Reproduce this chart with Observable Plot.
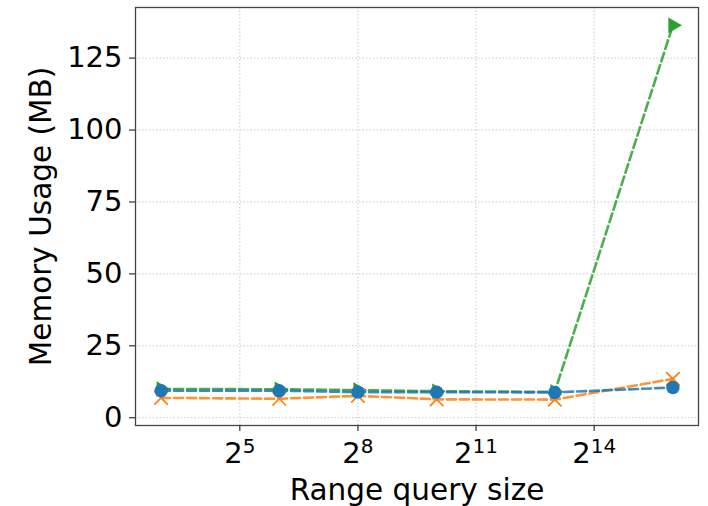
<!DOCTYPE html>
<html><head><meta charset="utf-8">
<script src="https://cdn.jsdelivr.net/npm/d3@7"></script>
<script src="https://cdn.jsdelivr.net/npm/@observablehq/plot@0.6"></script>
<style>body{margin:0;background:#fff} svg{display:block}</style>
</head><body><div id="chart"></div>
<script>
const rangeSizes = [8, 64, 256, 1024, 8192, 65536];
const memoryBlue = [9.4, 9.4, 8.9, 8.9, 8.8, 10.5];
const memoryOrange = [6.9, 6.6, 7.6, 6.4, 6.3, 13.5];
const memoryGreen = [10.0, 9.9, 9.6, 9.2, 9.0, 136.4];
const xTickValues = [32, 256, 2048, 16384];
const yTickValues = [0, 25, 50, 75, 100, 125];
const xLabel = "Range query size";
const yLabel = "Memory Usage (MB)";

const toRows = vals => rangeSizes.map((s, i) => ({size: s, mb: vals[i]}));
const green = toRows(memoryGreen), orange = toRows(memoryOrange), blue = toRows(memoryBlue);

const dash = "9,4";
const lineOpts = (c) => ({x: "size", y: "mb", stroke: c, strokeWidth: 2.6, strokeDasharray: dash, strokeOpacity: 0.85});

const chart = Plot.plot({
  width: 708, height: 506,
  marginLeft: 135, marginRight: 10, marginTop: 7, marginBottom: 81,
  x: {type: "log", base: 2, domain: [2 ** 2.35, 2 ** 16.65]},
  y: {domain: [-2.7, 142.6]},
  style: {fontFamily: "DejaVu Sans", background: "white", color: "#000"},
  marks: [
    Plot.gridX(xTickValues, {stroke: "#c8c8c8", strokeOpacity: 1, strokeWidth: 1, strokeDasharray: "1.5,2"}),
    Plot.gridY(yTickValues, {stroke: "#c8c8c8", strokeOpacity: 1, strokeWidth: 1, strokeDasharray: "1.5,2"}),
    Plot.line(green, lineOpts("#2ca02c")),
    Plot.dot(green, {x: "size", y: "mb", symbol: "triangle", rotate: 90, r: 5.8, fill: "#2ca02c", stroke: "none"}),
    Plot.line(orange, lineOpts("#ff7f0e")),
    Plot.dot(orange, {x: "size", y: "mb", symbol: "times", r: 6.2, stroke: "#ff7f0e", strokeWidth: 1.7}),
    Plot.line(blue, lineOpts("#1f77b4")),
    Plot.dot(blue, {x: "size", y: "mb", symbol: "circle", r: 6.7, fill: "#1f77b4", stroke: "none"}),
    Plot.frame({stroke: "#444", strokeWidth: 1.3}),
    Plot.axisY(yTickValues, {tickSize: 6, tickPadding: 7, fontSize: 29, label: null, stroke: "#333", strokeWidth: 1.2}),
    Plot.axisX(xTickValues, {tickSize: 6, tickPadding: 11, fontSize: 29, label: null, stroke: "#333", strokeWidth: 1.2,
      tickFormat: d => "2^" + Math.round(Math.log2(d))}),
    Plot.text([xLabel], {frameAnchor: "bottom", dy: 74, lineAnchor: "bottom", textAnchor: "middle", fontSize: 29.5, fill: "#000"}),
    Plot.text([yLabel], {frameAnchor: "left", dx: -85, rotate: -90, lineAnchor: "bottom", textAnchor: "middle", fontSize: 29.5, fill: "#000"})
  ]
});

// render superscript exponents in x tick labels
d3.select(chart).selectAll('g[aria-label="x-axis tick label"] text').each(function() {
  const t = d3.select(this);
  const s = t.text();
  if (!s.includes("^")) return;
  const [base, exp] = s.split("^");
  t.text(null);
  t.append("tspan").text(base);
  t.append("tspan").attr("font-size", 20).attr("dy", -10.6).text(exp);
});

document.getElementById("chart").appendChild(chart);
</script>
</body></html>
